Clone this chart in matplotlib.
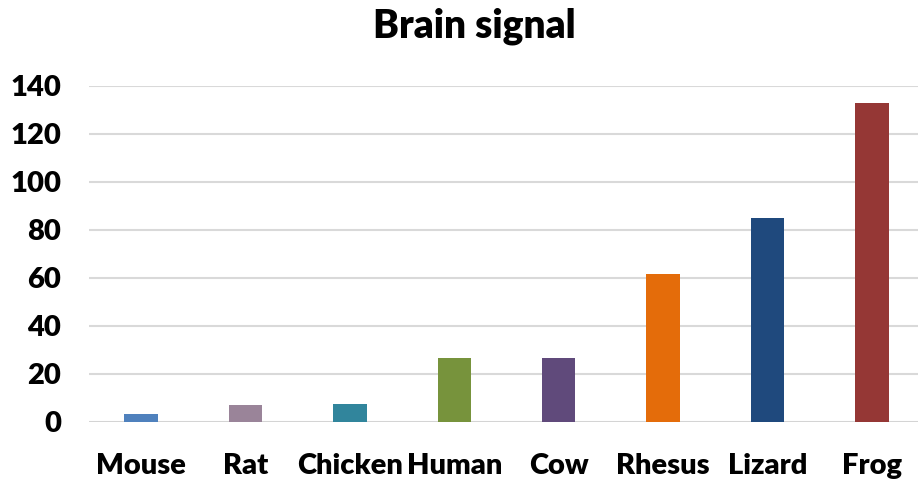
import matplotlib
matplotlib.use("Agg")
import matplotlib.pyplot as plt

species = ["Mouse", "Rat", "Chicken", "Human", "Cow", "Rhesus", "Lizard", "Frog"]
signal = [3.5, 7.2, 7.6, 26.5, 26.5, 61.5, 84.8, 133]
colors = ["#4f81bd", "#9a8499", "#31859c", "#77933c", "#604a7b", "#e46c0a", "#1f497d", "#953735"]
yticks = [0, 20, 40, 60, 80, 100, 120, 140]

plt.rcParams["font.family"] = ["Lato", "DejaVu Sans"]

fig = plt.figure(figsize=(9.18, 4.83), dpi=100)
ax = fig.add_axes([89 / 918, 61 / 483, 835 / 918, 336 / 483])

x = range(len(species))
ax.bar(x, signal, width=0.32, color=colors, zorder=3)

ax.set_xlim(-0.5, len(species) - 0.5)
ax.set_ylim(0, 140)
ax.set_yticks(yticks)
ax.set_xticks(list(x))
ax.set_xticklabels(species)
ax.grid(axis="y", color="#d9d9d9", linewidth=1.5, zorder=0)
for side in ["top", "right", "left", "bottom"]:
    ax.spines[side].set_visible(False)
ax.axhline(0, color="#d4d4d4", linewidth=2, zorder=2)
ax.tick_params(axis="both", length=0, labelsize=21)
ax.tick_params(axis="y", pad=20)
ax.tick_params(axis="x", pad=22)
for lbl in ax.get_xticklabels() + ax.get_yticklabels():
    lbl.set_fontweight("heavy")

fig.text(0.517, 0.946, "Brain signal", ha="center", va="center",
         fontsize=28, fontweight="heavy")

fig.savefig("out.png", dpi=100)
